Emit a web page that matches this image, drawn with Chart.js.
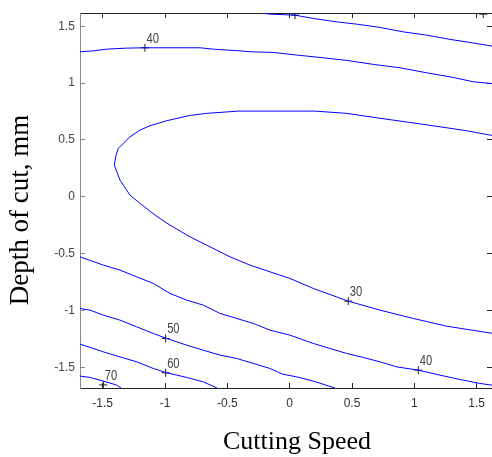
<!DOCTYPE html>
<html><head><meta charset="utf-8">
<script src="https://cdn.jsdelivr.net/npm/chart.js@4/dist/chart.umd.min.js"></script>
<style>html,body{margin:0;padding:0;background:#fff}</style>
</head><body>
<canvas id="c" width="492" height="457"></canvas>
<script>
// ---- data ----
const xTicks = [-1.5, -1, -0.5, 0, 0.5, 1, 1.5];
const yTicks = [-1.5, -1, -0.5, 0, 0.5, 1, 1.5];
const tickLabels = ['-1.5', '-1', '-0.5', '0', '0.5', '1', '1.5'];
const xTitle = 'Cutting Speed';
const yTitle = 'Depth of cut, mm';

const c30X = [1.623,1.420,1.206,0.965,0.698,0.457,0.203,0.002,-0.412,-0.666,-0.800,-0.987,-1.121,-1.201,-1.281,-1.375,-1.393,-1.407,-1.361,-1.281,-1.201,-1.080,-0.960,-0.800,-0.639,-0.479,-0.318,-0.158,0.002,0.189,0.470,0.724,0.991,1.259,1.623];
const c30Y = [0.540,0.581,0.616,0.654,0.695,0.734,0.754,0.754,0.754,0.734,0.716,0.669,0.625,0.587,0.528,0.426,0.367,0.279,0.147,0.015,-0.058,-0.161,-0.249,-0.352,-0.440,-0.528,-0.601,-0.660,-0.718,-0.806,-0.918,-0.997,-1.070,-1.138,-1.201];

const c40TopX = [-1.682,-1.575,-1.468,-1.307,-1.161,-0.719,-0.613,-0.399,-0.318,-0.131,0.056,0.270,0.457,0.671,0.885,1.099,1.312,1.473,1.623];
const c40TopY = [1.276,1.284,1.299,1.308,1.311,1.311,1.299,1.284,1.276,1.270,1.247,1.223,1.200,1.165,1.135,1.091,1.050,1.012,0.996];

const c40BotX = [-1.682,-1.495,-1.361,-1.227,-1.094,-0.960,-0.826,-0.693,-0.559,-0.425,-0.292,-0.158,0.002,0.189,0.323,0.457,0.590,0.724,0.858,1.032,1.206,1.366,1.526,1.623];
const c40BotY = [-0.528,-0.601,-0.645,-0.704,-0.762,-0.850,-0.909,-0.953,-1.026,-1.070,-1.114,-1.173,-1.217,-1.290,-1.334,-1.378,-1.413,-1.452,-1.496,-1.525,-1.569,-1.607,-1.642,-1.657];

const c50TopX = [-0.214,-0.158,0.043,0.189,0.377,0.537,0.724,0.911,1.099,1.286,1.446,1.623];
const c50TopY = [1.615,1.607,1.598,1.569,1.539,1.519,1.490,1.451,1.422,1.385,1.358,1.326];

const c50BotX = [-1.682,-1.602,-1.495,-1.361,-1.227,-1.094,-0.987,-0.826,-0.693,-0.559,-0.425,-0.292,-0.158,-0.058,0.056,0.189,0.363];
const c50BotY = [-0.982,-0.997,-1.041,-1.085,-1.144,-1.202,-1.246,-1.305,-1.349,-1.393,-1.422,-1.466,-1.510,-1.560,-1.584,-1.621,-1.682];

const c60X = [-1.682,-1.495,-1.361,-1.227,-1.094,-0.987,-0.826,-0.693,-0.583];
const c60Y = [-1.296,-1.364,-1.408,-1.452,-1.510,-1.548,-1.589,-1.628,-1.682];

const c70X = [-1.682,-1.602,-1.495,-1.388,-1.353];
const c70Y = [-1.577,-1.589,-1.621,-1.656,-1.682];

const labelX = [-1.161, 0.043, 1.553, 0.470, 1.032, -0.995, -0.995, -1.495];
const labelY = [1.311, 1.598, 1.607, -0.918, -1.525, -1.246, -1.548, -1.655];
const labelText = ['40', '', '', '30', '40', '50', '60', '70'];

// ---- build ----
const pts = (xs, ys) => xs.map((x, i) => ({x: x, y: ys[i]}));
const lineDs = (xs, ys) => ({
  data: pts(xs, ys), showLine: true, pointRadius: 0, borderColor: 'rgb(0,0,255)',
  borderWidth: 1, xAxisID: 'x', yAxisID: 'y', tension: 0
});

const xMin = -1.682, xMax = 1.623, yMin = -1.682, yMax = 1.617;

const labelPlugin = {
  id: 'contourLabels',
  afterDatasetsDraw(chart) {
    const {ctx, scales} = chart;
    ctx.save();
    ctx.fillStyle = '#444';
    ctx.font = '14px "Liberation Sans", Arial, sans-serif';
    ctx.textBaseline = 'alphabetic';
    ctx.textAlign = 'left';
    labelText.forEach((t, i) => {
      if (!t) return;
      const px = scales.x.getPixelForValue(labelX[i]);
      const py = scales.y.getPixelForValue(labelY[i]);
      ctx.save();
      ctx.translate(px + 1.5, py - 5);
      ctx.scale(0.8, 1);
      ctx.fillText(t, 0, 0);
      ctx.restore();
    });
    ctx.restore();
  }
};

const titlePlugin = {
  id: 'axisTitles',
  afterDraw(chart) {
    const {ctx} = chart;
    ctx.save();
    ctx.fillStyle = '#000';
    ctx.font = '26px "Liberation Serif", "Times New Roman", serif';
    ctx.textAlign = 'center';
    ctx.textBaseline = 'middle';
    ctx.fillText(xTitle, 297, 442);
    ctx.translate(21, 210);
    ctx.rotate(-Math.PI / 2);
    ctx.font = '27px "Liberation Serif", "Times New Roman", serif';
    ctx.fillText(yTitle, 0, 0);
    ctx.restore();
  }
};

const setTicks = (arr) => (s) => { s.ticks = arr.map(v => ({value: v})); };
const fmt = (arr) => (v) => { const i = arr.indexOf(v); return i >= 0 ? tickLabels[i] : ''; };
const noPad = (s) => { s.paddingLeft = 0; s.paddingRight = 0; s.paddingTop = 0; s.paddingBottom = 0; };

new Chart(document.getElementById('c'), {
  type: 'scatter',
  data: {
    datasets: [
      lineDs(c30X, c30Y),
      lineDs(c40TopX, c40TopY),
      lineDs(c40BotX, c40BotY),
      lineDs(c50TopX, c50TopY),
      lineDs(c50BotX, c50BotY),
      lineDs(c60X, c60Y),
      lineDs(c70X, c70Y),
      {
        data: pts(labelX, labelY), showLine: false, pointStyle: 'cross', pointRadius: 4,
        borderColor: '#222', borderWidth: 1, xAxisID: 'x', yAxisID: 'y'
      }
    ]
  },
  options: {
    responsive: false,
    animation: false,
    devicePixelRatio: 1,
    layout: {autoPadding: false, padding: {top: 13, right: 0, left: 0, bottom: 0}},
    plugins: {legend: {display: false}, tooltip: {enabled: false}},
    scales: {
      x: {
        type: 'linear', position: 'bottom', min: xMin, max: xMax,
        afterBuildTicks: setTicks(xTicks),
        afterFit: (s) => { s.height = 69; noPad(s); },
        ticks: {callback: fmt(xTicks), color: '#333', font: {family: '"Liberation Sans", Arial', size: 12}, padding: 13, maxRotation: 0, autoSkip: false},
        grid: {drawOnChartArea: false, tickLength: -5, color: '#222'},
        border: {display: true, color: '#222', width: 1}
      },
      x2: {
        type: 'linear', position: 'top', min: xMin, max: xMax,
        afterBuildTicks: setTicks(xTicks),
        afterFit: (s) => { s.height = 0; noPad(s); },
        ticks: {display: false},
        grid: {drawOnChartArea: false, tickLength: -5, color: '#222'},
        border: {display: true, color: '#222', width: 1}
      },
      y: {
        type: 'linear', position: 'left', min: yMin, max: yMax,
        afterBuildTicks: setTicks(yTicks),
        afterFit: (s) => { s.width = 80; noPad(s); },
        ticks: {callback: fmt(yTicks), color: '#444', font: {family: '"Liberation Sans", Arial', size: 12}, padding: 10, autoSkip: false},
        grid: {drawOnChartArea: false, tickLength: -5, color: '#888'},
        border: {display: true, color: '#8a8a8a', width: 1}
      },
      y2: {
        type: 'linear', position: 'right', min: yMin, max: yMax,
        afterBuildTicks: setTicks(yTicks),
        afterFit: (s) => { s.width = 0; noPad(s); },
        ticks: {display: false},
        grid: {drawOnChartArea: false, tickLength: -5, color: '#222'},
        border: {display: true, color: '#222', width: 1}
      }
    }
  },
  plugins: [labelPlugin, titlePlugin]
});
</script>
</body></html>
